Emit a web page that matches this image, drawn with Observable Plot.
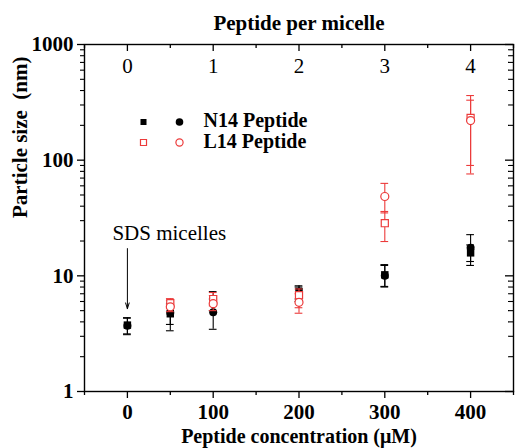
<!DOCTYPE html>
<html>
<head>
<meta charset="utf-8">
<script src="https://cdn.jsdelivr.net/npm/d3@7"></script>
<script src="https://cdn.jsdelivr.net/npm/@observablehq/plot@0.6"></script>
<style>
  html, body { margin: 0; padding: 0; background: #fff; }
</style>
</head>
<body>
<div id="chart"></div>
<script>
// ---- data ----
const concentrations = [0, 50, 100, 200, 300, 400];

// N14 peptide (filled black): squares and circles, value + error range
const n14Square      = [3.75, 4.7, 6.1, 7.3, 10.2, 15.8];
const n14SquareLow   = [3.15, 3.8, 5.0, 6.3, 8.1, 13.3];
const n14SquareHigh  = [4.35, 5.8, 7.3, 8.2, 12.5, 18.5];
const n14Circle      = [3.7, 4.8, 4.85, 7.0, 10.0, 17.5];
const n14CircleLow   = [3.1, 3.35, 3.45, 6.0, 8.0, 12.3];
const n14CircleHigh  = [4.3, 5.6, 6.3, 8.0, 12.3, 22.7];

// L14 peptide (open red): no value at 0 µM
const l14Conc        = [50, 100, 200, 300, 400];
const l14Square      = [5.8, 6.3, 6.8, 28.5, 232];
const l14SquareLow   = [5.2, 5.5, 5.3, 19.8, 90];
const l14SquareHigh  = [6.35, 7.17, 7.7, 36, 362];
const l14Circle      = [5.4, 5.75, 5.9, 48.5, 220];
const l14CircleLow   = [4.9, 5.0, 4.75, 35, 76];
const l14CircleHigh  = [6.1, 6.75, 7.0, 63, 330];

// axes
const bottomTicks = [0, 100, 200, 300, 400];
const bottomMinorTicks = [-50, 50, 150, 250, 350, 450];
const topTickPositions = [0, 100, 200, 300, 400];
const topTickLabels = ["0", "1", "2", "3", "4"];
const yMajorTicks = [1, 10, 100, 1000];
const yMinorTicks = [2,3,4,5,6,7,8,9,20,30,40,50,60,70,80,90,200,300,400,500,600,700,800,900];

const legendItems = ["N14 Peptide", "L14 Peptide"];
const annotation = [{x: 0, yText: 23.2, yFrom: 17.2, yTo: 5.2, label: "SDS micelles"}];

// ---- build tables ----
const mk = (xs, v, lo, hi) => xs.map((x, i) => ({x, v: v[i], lo: lo[i], hi: hi[i]}));
const nSq = mk(concentrations, n14Square, n14SquareLow, n14SquareHigh);
const nCi = mk(concentrations, n14Circle, n14CircleLow, n14CircleHigh);
const lSq = mk(l14Conc, l14Square, l14SquareLow, l14SquareHigh);
const lCi = mk(l14Conc, l14Circle, l14CircleLow, l14CircleHigh);

const RED = "#ec3b3b";
const CAP = 4.5; // half cap width in x units
const FONT = "'Liberation Serif', 'Times New Roman', serif";

function errMarks(data, color) {
  return [
    Plot.ruleX(data, {x: "x", y1: "lo", y2: "hi", stroke: color, strokeWidth: 1.1}),
    Plot.ruleY(data, {y: "lo", x1: d => d.x - CAP, x2: d => d.x + CAP, stroke: color, strokeWidth: 1.1}),
    Plot.ruleY(data, {y: "hi", x1: d => d.x - CAP, x2: d => d.x + CAP, stroke: color, strokeWidth: 1.1})
  ];
}

function legendRow(label, dy, filled, color) {
  return [
    Plot.dot([label], {frameAnchor: "top-left", dx: 59, dy, symbol: "square", r: 3.4,
      fill: filled ? color : "#fff", stroke: filled ? "none" : color, strokeWidth: 1.2}),
    Plot.dot([label], {frameAnchor: "top-left", dx: 95, dy, symbol: "circle", r: filled ? 3.8 : 3.6,
      fill: filled ? color : "#fff", stroke: filled ? "none" : color, strokeWidth: 1.2}),
    Plot.text([label], {frameAnchor: "top-left", dx: 119, dy: dy - 1, text: d => d, textAnchor: "start",
      lineAnchor: "middle", fontSize: 20, fontWeight: "bold", fill: "#000"})
  ];
}

const W = 515, H = 448, ML = 84, MR = 2, MT = 44, MB = 57;
const FW = W - ML - MR, FH = H - MT - MB;

const chart = Plot.plot({
  width: W, height: H,
  marginLeft: ML, marginRight: MR, marginTop: MT, marginBottom: MB,
  style: {fontFamily: FONT, background: "#fff", color: "#000", overflow: "visible"},
  x: {domain: [-50, 450]},
  y: {type: "log", domain: [1, 1000]},
  marks: [
    // bottom axis
    Plot.axisX({anchor: "bottom", ticks: bottomTicks, tickSize: 7, tickPadding: 6, fontSize: 21, fontWeight: "bold", label: null, strokeWidth: 1.3}),
    Plot.axisX({anchor: "bottom", ticks: bottomMinorTicks, tickSize: 4, text: null, label: null, strokeWidth: 1.3}),
    // left axis
    Plot.axisY({anchor: "left", ticks: yMajorTicks, tickSize: 7, tickPadding: 4, fontSize: 21, fontWeight: "bold", label: null, tickFormat: d => String(d), strokeWidth: 1.3}),
    Plot.axisY({anchor: "left", ticks: yMinorTicks, tickSize: 4, text: null, label: null, strokeWidth: 1.1}),
    // top axis (inward ticks, labels inside)
    Plot.ruleX(topTickPositions, {x: d => d, insetBottom: FH - 7, stroke: "#000", strokeWidth: 1.3}),
    Plot.ruleX(bottomMinorTicks, {x: d => d, insetBottom: FH - 4, stroke: "#000", strokeWidth: 1.3}),
    Plot.text(topTickPositions, {x: d => d, text: (d, i) => topTickLabels[i], frameAnchor: "top", lineAnchor: "middle", dy: 22, fontSize: 21}),
    // right axis (inward ticks)
    Plot.ruleY(yMajorTicks, {y: d => d, insetLeft: FW - 8, stroke: "#000", strokeWidth: 1.3}),
    Plot.ruleY(yMinorTicks, {y: d => d, insetLeft: FW - 5, stroke: "#000", strokeWidth: 1.1}),
    Plot.frame({stroke: "#000", strokeWidth: 1.4}),

    // N14 error bars and markers
    ...errMarks(nSq, "#000"),
    ...errMarks(nCi, "#000"),
    Plot.dot(nSq, {x: "x", y: "v", symbol: "square", r: 4.2, fill: "#000", stroke: "none"}),
    Plot.dot(nCi, {x: "x", y: "v", symbol: "circle", r: 4, fill: "#000", stroke: "none"}),
    // L14 error bars and markers
    ...errMarks(lSq, RED),
    ...errMarks(lCi, RED),
    Plot.dot(lSq, {x: "x", y: "v", symbol: "square", r: 4, fill: "#fff", stroke: RED, strokeWidth: 1.2}),
    Plot.dot(lCi, {x: "x", y: "v", symbol: "circle", r: 4, fill: "#fff", stroke: RED, strokeWidth: 1.2}),

    // annotation
    Plot.arrow(annotation, {x1: "x", x2: "x", y1: "yFrom", y2: "yTo", stroke: "#000", strokeWidth: 1, headLength: 9, headAngle: 35}),
    Plot.text(annotation, {x: "x", y: "yText", text: "label", textAnchor: "start", dx: -15, fontSize: 21}),

    // legend
    ...legendRow(legendItems[0], 77.5, true, "#000"),
    ...legendRow(legendItems[1], 98, false, RED),

    // titles
    Plot.text(["Peptide per micelle"], {frameAnchor: "top", lineAnchor: "middle", dy: -21, fontSize: 21, fontWeight: "bold"}),
    Plot.text(["Peptide concentration (\u03bcM)"], {frameAnchor: "bottom", lineAnchor: "middle", dy: 45, fontSize: 20, fontWeight: "bold"}),
    Plot.text(["Particle size  (nm)"], {frameAnchor: "left", dx: -64, rotate: -90, fontSize: 21, fontWeight: "bold"})
  ]
});

document.getElementById("chart").appendChild(chart);
</script>
</body>
</html>
